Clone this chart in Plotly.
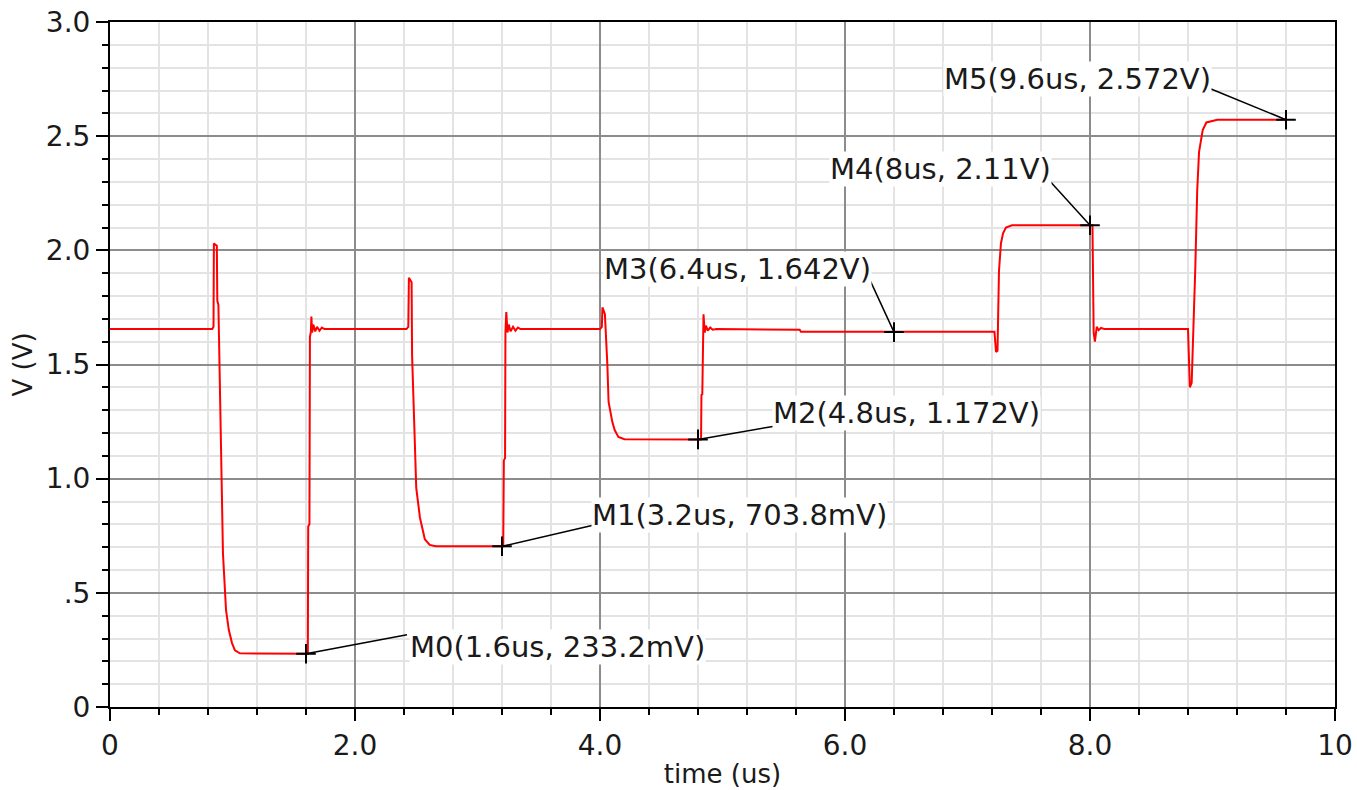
import plotly.graph_objects as go

# ---- data ----
time_us = [0.0, 0.835, 0.845, 0.848, 0.872, 0.876, 0.885, 0.898, 0.91, 0.922, 0.947, 0.97, 0.996, 1.02, 1.06,
           1.615, 1.618, 1.628, 1.632, 1.64, 1.644, 1.65, 1.66, 1.675, 1.69, 1.71, 1.73, 1.75,
           2.42, 2.435, 2.44, 2.462, 2.466, 2.49, 2.5, 2.53, 2.55, 2.57, 2.61, 2.66,
           3.21, 3.215, 3.225, 3.228, 3.235, 3.245, 3.255, 3.27, 3.29, 3.31, 3.33, 3.35,
           4.0, 4.015, 4.02, 4.04, 4.06, 4.07, 4.1, 4.12, 4.15, 4.2,
           4.825, 4.828, 4.835, 4.838, 4.845, 4.855, 4.865, 4.88, 4.9, 4.92, 4.95,
           5.63, 5.64, 7.22, 7.233, 7.245, 7.249, 7.257, 7.273, 7.29, 7.314, 7.363,
           8.02, 8.03, 8.04, 8.055, 8.07, 8.09, 8.12,
           8.80, 8.815, 8.83, 8.86, 8.875, 8.89, 8.92, 8.95, 9.04, 9.6]
volts = [1.655, 1.655, 1.665, 2.03, 2.02, 1.78, 1.76, 1.345, 0.985, 0.674, 0.425, 0.337, 0.28, 0.248, 0.235,
         0.233, 0.79, 0.80, 1.62, 1.645, 1.71, 1.64, 1.675, 1.645, 1.665, 1.648, 1.662, 1.655,
         1.655, 1.665, 1.88, 1.86, 1.54, 1.16, 0.96, 0.83, 0.775, 0.735, 0.71, 0.704,
         0.704, 1.08, 1.09, 1.64, 1.73, 1.64, 1.675, 1.645, 1.665, 1.648, 1.662, 1.655,
         1.655, 1.665, 1.75, 1.72, 1.50, 1.336, 1.25, 1.213, 1.183, 1.173,
         1.172, 1.367, 1.37, 1.64, 1.72, 1.64, 1.67, 1.648, 1.662, 1.652, 1.655,
         1.652, 1.643, 1.643, 1.555, 1.56, 1.75, 1.91, 2.03, 2.075, 2.10, 2.11,
         2.11, 1.638, 1.60, 1.665, 1.65, 1.66, 1.655,
         1.655, 1.40, 1.42, 1.93, 2.26, 2.43, 2.527, 2.56, 2.572, 2.572]

marker_t = [1.6, 3.2, 4.8, 6.4, 8.0, 9.6]
marker_v = [0.2332, 0.7038, 1.172, 1.642, 2.11, 2.572]
marker_names = ["M0", "M1", "M2", "M3", "M4", "M5"]
marker_t_text = ["1.6us", "3.2us", "4.8us", "6.4us", "8us", "9.6us"]
marker_v_text = ["233.2mV", "703.8mV", "1.172V", "1.642V", "2.11V", "2.572V"]

x_tickvals = [0, 2, 4, 6, 8, 10]
x_ticktext = ["0", "2.0", "4.0", "6.0", "8.0", "10"]
y_tickvals = [0, 0.5, 1.0, 1.5, 2.0, 2.5, 3.0]
y_ticktext = ["0", ".5", "1.0", "1.5", "2.0", "2.5", "3.0"]

# ---- label placement (pixel offsets from each marker, screen up = positive) ----
leader_ends = [(101, 19), (91, 21), (75, 13), (-24, 52), (-40, 44), (-78, 32)]
label_anchor = ["left", "left", "left", "right", "right", "right"]
label_shift = [(103, 7), (89, 31), (74, 26), (-22, 63), (-38, 56), (-74, 41)]

FONT = "DejaVu Sans"
TXT = "#1a1a1a"

fig = go.Figure()
fig.add_trace(go.Scatter(x=time_us, y=volts, mode="lines",
                         line=dict(color="#ff0000", width=2), hoverinfo="skip", showlegend=False))
fig.add_trace(go.Scatter(x=marker_t, y=marker_v, mode="markers",
                         marker=dict(symbol="cross-thin", size=14, line=dict(color="black", width=2)),
                         showlegend=False))

shapes = []
annotations = []
for i in range(len(marker_t)):
    dx, dy = leader_ends[i]
    shapes.append(dict(type="line", xref="x", yref="y", xsizemode="pixel", ysizemode="pixel",
                       xanchor=marker_t[i], yanchor=marker_v[i], x0=0, y0=0, x1=dx, y1=dy,
                       line=dict(color="black", width=1.5), layer="above"))
    sx, sy = label_shift[i]
    annotations.append(dict(x=marker_t[i], y=marker_v[i], xref="x", yref="y", showarrow=False,
                            text=f"{marker_names[i]}({marker_t_text[i]}, {marker_v_text[i]})",
                            xanchor=label_anchor[i], yanchor="middle", xshift=sx, yshift=sy,
                            bgcolor="white", borderpad=0,
                            font=dict(family=FONT, size=29, color=TXT)))

axis_common = dict(showline=True, linecolor="black", linewidth=2, mirror=True,
                   ticks="outside", ticklen=12, tickwidth=2, tickcolor="black",
                   showgrid=True, gridcolor="#8c8c8c", gridwidth=2, zeroline=False,
                   automargin=False,
                   tickfont=dict(family=FONT, size=28, color=TXT))

fig.update_layout(
    width=1357, height=790,
    margin=dict(l=110, r=22, t=22, b=83),
    paper_bgcolor="white", plot_bgcolor="white",
    shapes=shapes, annotations=annotations,
    xaxis=dict(range=[0, 10], tickvals=x_tickvals, ticktext=x_ticktext,
               minor=dict(dtick=0.4, tick0=0, ticks="outside", ticklen=6, tickwidth=2, tickcolor="black",
                          showgrid=True, gridcolor="#e3e3e3", gridwidth=2),
               title=dict(text="time (us)", standoff=4,
                          font=dict(family=FONT, size=26, color=TXT)),
               **axis_common),
    yaxis=dict(range=[0, 3], tickvals=y_tickvals, ticktext=y_ticktext,
               minor=dict(dtick=0.1, tick0=0, ticks="outside", ticklen=6, tickwidth=2, tickcolor="black",
                          showgrid=True, gridcolor="#e3e3e3", gridwidth=2),
               title=dict(text="V (V)", standoff=6, font=dict(family=FONT, size=26, color=TXT)),
               **axis_common),
)

fig.write_html("out.html")
